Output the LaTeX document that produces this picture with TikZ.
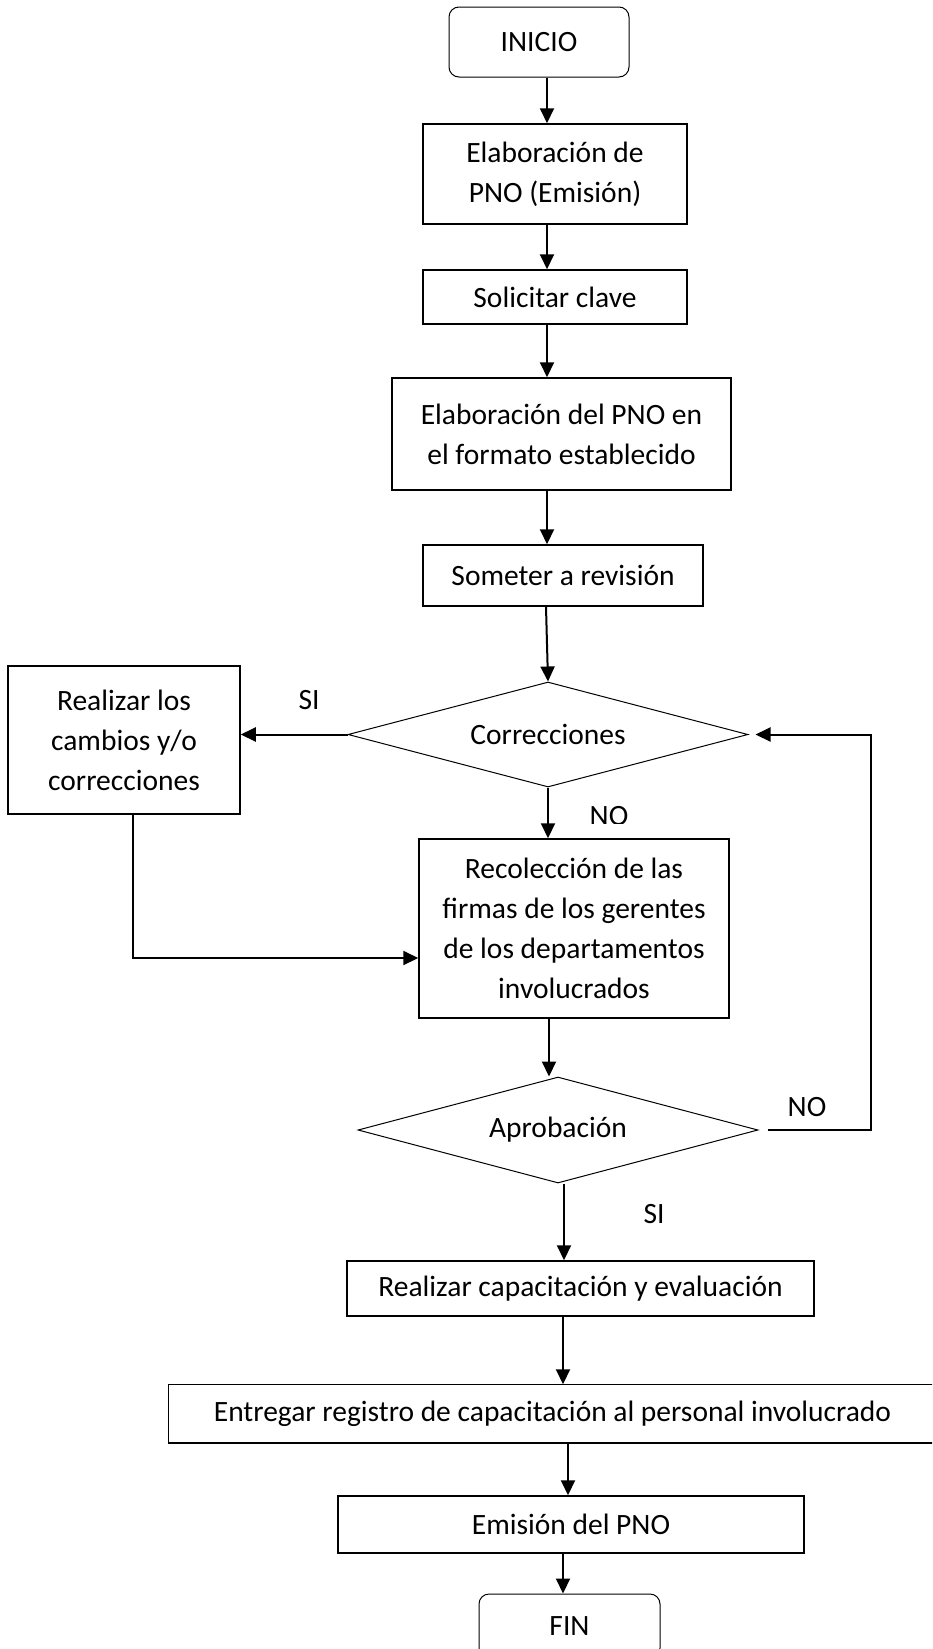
\documentclass[tikz,border=0pt]{standalone}
\usepackage{fontspec}
\setmainfont{Carlito}
\usetikzlibrary{arrows.meta,shapes.geometric,calc}
\begin{document}
\begin{tikzpicture}[x=1pt,y=-1pt,
  txt/.style={font=\fontsize{29.5}{40}\selectfont},
  box/.style={draw, line width=1.5pt, inner sep=0pt, align=center, txt},
  term/.style={draw, line width=1pt, rounded corners=10pt, inner sep=0pt, align=center, txt},
  dec/.style={draw, diamond, line width=1pt, aspect=3.8, inner sep=0pt, minimum width=400pt, minimum height=105pt, txt},
  arr/.style={line width=2pt, -{Triangle[length=15pt,width=14pt]}},
  lbl/.style={inner sep=0pt, txt}]
\clip (0,0) rectangle (932,1649);
\fill[white] (0,0) rectangle (932,1649);

\node[term, minimum width=180pt, minimum height=70pt] (ini) at (539,42) {INICIO};
\node[box, minimum width=264pt, minimum height=100pt] (e1) at (555,174) {Elaboración de\\PNO (Emisión)};
\node[box, minimum width=264pt, minimum height=54pt] (sol) at (555,297) {Solicitar clave};
\node[box, minimum width=339pt, minimum height=112pt] (e2) at (561.5,434) {Elaboración del PNO en\\el formato establecido};
\node[box, minimum width=280pt, minimum height=61pt] (rev) at (563,575.5) {Someter a revisión};
\node[dec] (corr) at (548,734.5) {Correcciones};
\node[box, minimum width=232pt, minimum height=148pt] (rc) at (124,740) {Realizar los\\cambios y/o\\correcciones};
\node[box, minimum width=310pt, minimum height=179pt] (rec) at (574,928.5) {Recolección de las\\firmas de los gerentes\\de los departamentos\\involucrados};
\node[dec, minimum height=106pt] (apr) at (558,1130) {Aprobación};
\node[box, minimum width=467pt, minimum height=55pt] (cap) at (580.5,1288.5) {Realizar capacitación y evaluación};
\node[box, draw=none, minimum width=767pt, minimum height=57pt] (ent) at (552.5,1413.5) {Entregar registro de capacitación al personal involucrado};
\draw[line width=1.5pt] ($(ent.north east)+(30,0)$) -- (ent.north west) -- (ent.south west) -- ($(ent.south east)+(30,0)$);
\node[box, minimum width=466pt, minimum height=57pt] (emi) at (571,1524.5) {Emisión del PNO};
\node[term, minimum width=181pt, minimum height=64pt] (fin) at (569.5,1626) {FIN};

\node[lbl, anchor=base] (si1) at (309,709) {SI};
\begin{scope}
\clip (570,790) rectangle (650,823);
\node[lbl, anchor=base] (no1) at (609,825.5) {NO};
\end{scope}
\node[lbl, anchor=base] (no2) at (807,1116) {NO};
\node[lbl, anchor=base] (si2) at (654,1223) {SI};

\draw[arr] (547,0 |- ini.south) -- (547,0 |- e1.north);
\draw[arr] (547,0 |- e1.south) -- (547,0 |- sol.north);
\draw[arr] (547,0 |- sol.south) -- (547,0 |- e2.north);
\draw[arr] (547,0 |- e2.south) -- (547,0 |- rev.north);
\draw[arr] (546,0 |- rev.south) -- (corr.north);
\draw[arr] (corr.west) -- (rc.east |- corr.west);
\draw[arr] (corr.south) -- (548,0 |- rec.north);
\draw[arr] (133,0 |- rc.south) |- (rec.west |- 0,958);
\draw[arr] (549,0 |- rec.south) -- (549,0 |- apr.north);
\draw[arr] ($(apr.east)+(9,0)$) -- (871,0 |- apr.east) -- (871,0 |- corr.east) -- ($(corr.east)+(7,0)$);
\draw[arr] (564,0 |- apr.south) -- (564,0 |- cap.north);
\draw[arr] (563,0 |- cap.south) -- (563,0 |- ent.north);
\draw[arr] (568,0 |- ent.south) -- (568,0 |- emi.north);
\draw[arr] (563,0 |- emi.south) -- (563,0 |- fin.north);
\end{tikzpicture}
\end{document}
